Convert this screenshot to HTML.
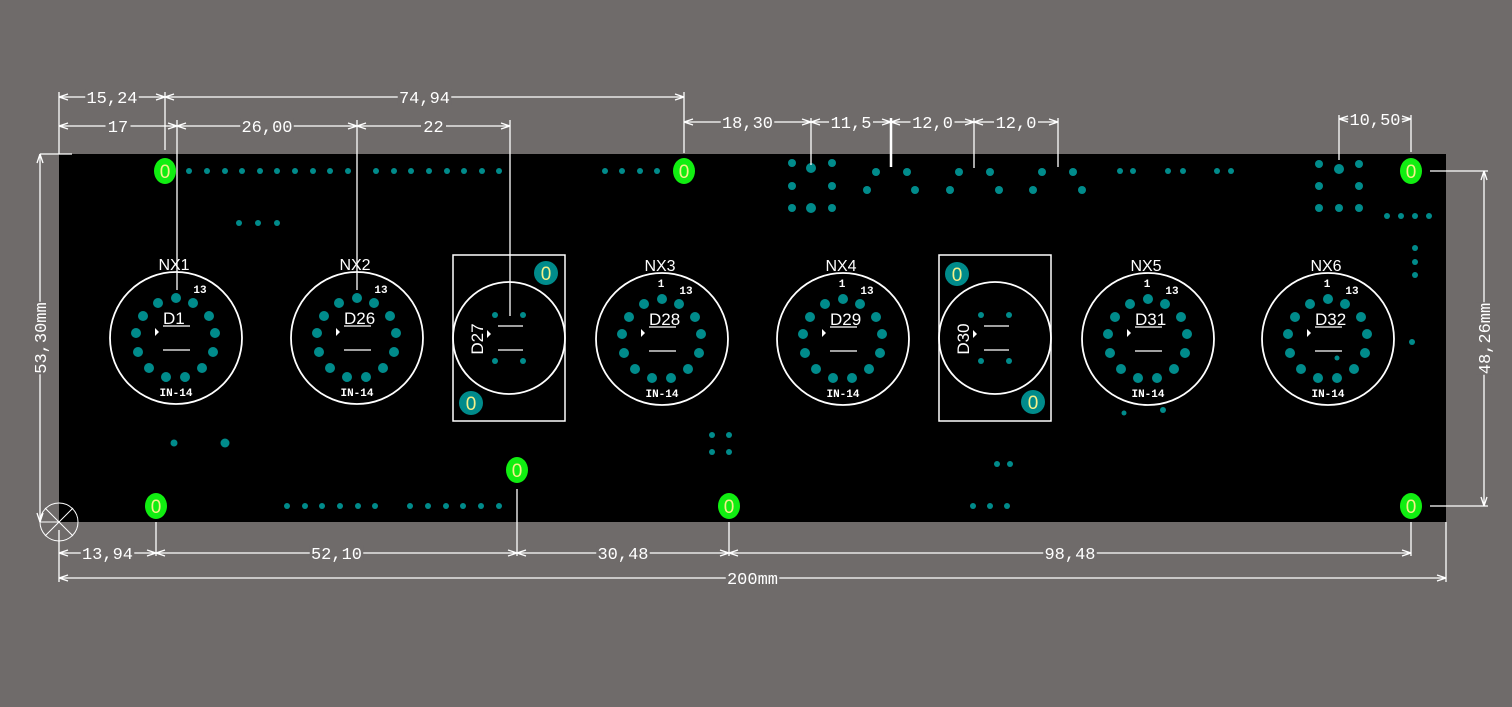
<!DOCTYPE html>
<html><head><meta charset="utf-8"><style>
html,body{margin:0;padding:0;background:#6f6b6a;}
svg{display:block}
text{font-family:"Liberation Mono","DejaVu Sans Mono",monospace;}
</style></head><body>
<svg id="s" width="1512" height="707" xmlns="http://www.w3.org/2000/svg">
<rect width="1512" height="707" fill="#6f6b6a"/>
<rect x="59" y="154" width="1387" height="368" fill="#000"/>
<g id="g"></g>
</svg>
<script>
var g=document.getElementById('g'),h='';
var T='#008b8b',W='#fff';
var SANS='style="font-family:\'Liberation Sans\',sans-serif"';
function dot(x,y,r){h+='<circle cx="'+x+'" cy="'+y+'" r="'+(r||3)+'" fill="'+T+'"/>';}
function ln(x1,y1,x2,y2,w){h+='<line x1="'+x1+'" y1="'+y1+'" x2="'+x2+'" y2="'+y2+'" stroke="#fff" stroke-width="'+(w||1.3)+'"/>';}
function tx(x,y,s,sz,ext){h+='<text x="'+x+'" y="'+y+'" fill="#fff" font-size="'+sz+'" text-anchor="middle" '+(ext||'')+'>'+s+'</text>';}
function hdim(x1,x2,y,label){
  ln(x1,y,x2,y,1.3);
  ln(x1,y,x1+9,y-3);ln(x1,y,x1+9,y+3);ln(x2,y,x2-9,y-3);ln(x2,y,x2-9,y+3);
  var m=(x1+x2)/2,w=label.length*9.5+6;
  h+='<rect x="'+(m-w/2)+'" y="'+(y-8)+'" width="'+w+'" height="16" fill="#6f6b6a"/>';
  tx(m,y+6,label,17);
}
function vdim(x,y1,y2,label){
  ln(x,y1,x,y2,1.3);
  ln(x,y1,x-3,y1+9);ln(x,y1,x+3,y1+9);ln(x,y2,x-3,y2-9);ln(x,y2,x+3,y2-9);
  var m=(y1+y2)/2,w=label.length*9.5+6;
  h+='<rect x="'+(x-8)+'" y="'+(m-w/2)+'" width="16" height="'+w+'" fill="#6f6b6a"/>';
  h+='<text x="'+(x+6)+'" y="'+m+'" fill="#fff" font-size="17" text-anchor="middle" transform="rotate(-90 '+(x+6)+' '+m+')">'+label+'</text>';
}
function green(x,y){h+='<ellipse cx="'+x+'" cy="'+y+'" rx="11" ry="13" fill="#11ee11"/>';
  h+='<text x="'+x+'" y="'+(y+7)+'" fill="#f4f08a" font-size="19" text-anchor="middle" '+SANS+'>0</text>';}
function tpad(x,y){h+='<circle cx="'+x+'" cy="'+y+'" r="12" fill="'+T+'"/>';
  h+='<text x="'+x+'" y="'+(y+7)+'" fill="#f4f08a" font-size="19" text-anchor="middle" '+SANS+'>0</text>';}
var pins=[[0,-40],[-18,-35],[17,-35],[-33,-22],[33,-22],[-40,-5],[39,-5],[-38,14],[37,14],[-27,30],[26,30],[-10,39],[9,39]];
function tube(cx,cy,nx,d,one){
  h+='<circle cx="'+cx+'" cy="'+cy+'" r="66" fill="none" stroke="#fff" stroke-width="1.8"/>';
  pins.forEach(function(p){dot(cx+p[0],cy+p[1],5);});
  tx(cx-2,cy-68,nx,16,SANS);
  tx(cx+24,cy-45,'13',11,'font-weight="bold"');
  if(one)tx(cx-1,cy-52,'1',11,'font-weight="bold"');
  h+='<text x="'+(cx-13)+'" y="'+(cy-14)+'" fill="#fff" font-size="17" '+SANS+'>'+d+'</text>';
  ln(cx-13,cy-12,cx+14,cy-12,1.3);ln(cx-13,cy+12,cx+14,cy+12,1.3);
  h+='<polygon points="'+(cx-21)+','+(cy-10)+' '+(cx-17)+','+(cy-6)+' '+(cx-21)+','+(cy-2)+'" fill="#fff"/>';
  tx(cx,cy+58,'IN-14',11,'font-weight="bold"');
}
function dbox(bx,cx,cy,label,p1,p2){
  h+='<rect x="'+bx+'" y="255" width="112" height="166" fill="none" stroke="#fff" stroke-width="1.5"/>';
  h+='<circle cx="'+cx+'" cy="'+cy+'" r="56" fill="none" stroke="#fff" stroke-width="1.8"/>';
  dot(cx-14,cy-23,3);dot(cx+14,cy-23,3);dot(cx-14,cy+23,3);dot(cx+14,cy+23,3);
  ln(cx-11,cy-12,cx+14,cy-12);ln(cx-11,cy+12,cx+14,cy+12);
  h+='<polygon points="'+(cx-22)+','+(cy-8)+' '+(cx-18)+','+(cy-4)+' '+(cx-22)+','+cy+'" fill="#fff"/>';
  h+='<text x="'+(cx-26)+'" y="'+(cy+1)+'" fill="#fff" font-size="17" text-anchor="middle" '+SANS+' transform="rotate(-90 '+(cx-26)+' '+(cy+1)+')">'+label+'</text>';
  tpad(p1[0],p1[1]);tpad(p2[0],p2[1]);
}
[189,207,225,242,260,277,295,313,330,348,376,394,411,429,447,464,482,499,605,622,640,657].forEach(function(x){dot(x,171,3);});
[239,258,277].forEach(function(x){dot(x,223,3);});
dot(792,163,4);dot(811,168,5);dot(832,163,4);dot(792,186,4);dot(832,186,4);dot(792,208,4);dot(811,208,5);dot(832,208,4);
[[876,172],[907,172],[867,190],[915,190],[959,172],[990,172],[950,190],[999,190],[1042,172],[1073,172],[1033,190],[1082,190]].forEach(function(p){dot(p[0],p[1],4);});
[1120,1133,1168,1183,1217,1231].forEach(function(x){dot(x,171,3);});
dot(1319,164,4);dot(1339,169,5);dot(1359,164,4);dot(1319,186,4);dot(1359,186,4);dot(1319,208,4);dot(1339,208,4);dot(1359,208,4);
[1387,1401,1415,1429].forEach(function(x){dot(x,216,3);});
[248,262,275].forEach(function(y){dot(1415,y,3);});
dot(1412,342,3);dot(1124,413,2.5);dot(1163,410,3);dot(1337,358,2.5);
dot(174,443,3.5);dot(225,443,4.5);
[287,305,322,340,358,375,410,428,446,463,481,499].forEach(function(x){dot(x,506,3);});
dot(712,435,3);dot(729,435,3);dot(712,452,3);dot(729,452,3);
dot(997,464,3);dot(1010,464,3);dot(973,506,3);dot(990,506,3);dot(1007,506,3);
tube(176,338,'NX1','D1',false);
tube(357,338,'NX2','D26',false);
tube(662,339,'NX3','D28',true);
tube(843,339,'NX4','D29',true);
tube(1148,339,'NX5','D31',true);
tube(1328,339,'NX6','D32',true);
dbox(453,509,338,'D27',[546,273],[471,403]);
dbox(939,995,338,'D30',[957,274],[1033,402]);
[[165,171],[684,171],[1411,171],[156,506],[517,470],[729,506],[1411,506]].forEach(function(p){green(p[0],p[1]);});
ln(59,92,59,154);ln(165,92,165,150);ln(177,120,177,290);ln(357,120,357,290);ln(510,120,510,316);
ln(684,92,684,153);ln(811,118,811,165);ln(891,118,891,167,2.5);ln(974,118,974,168);ln(1058,118,1058,167);
ln(1339,115,1339,160);ln(1411,115,1411,152);
ln(40,154,72,154);
ln(1430,171,1488,171);ln(1430,506,1488,506);
ln(156,522,156,556);ln(517,489,517,556);ln(729,522,729,556);ln(1411,522,1411,556);ln(1446,522,1446,582);ln(59,530,59,582);
hdim(59,165,97,'15,24');hdim(165,684,97,'74,94');
hdim(59,177,126,'17');hdim(177,357,126,'26,00');hdim(357,510,126,'22');
hdim(684,811,122,'18,30');hdim(811,891,122,'11,5');hdim(891,974,122,'12,0');hdim(974,1058,122,'12,0');
hdim(1339,1411,119,'10,50');
hdim(59,156,553,'13,94');hdim(156,517,553,'52,10');hdim(517,729,553,'30,48');hdim(729,1411,553,'98,48');
hdim(59,1446,578,'200mm');
vdim(40,154,522,'53,30mm');vdim(1484,171,506,'48,26mm');
h+='<circle cx="59" cy="522" r="19" fill="none" stroke="#fff" stroke-width="1"/>';
ln(45,508,73,536,1);ln(73,508,45,536,1);ln(40,522,59,522,1);
g.innerHTML=h;
</script>
</body></html>
